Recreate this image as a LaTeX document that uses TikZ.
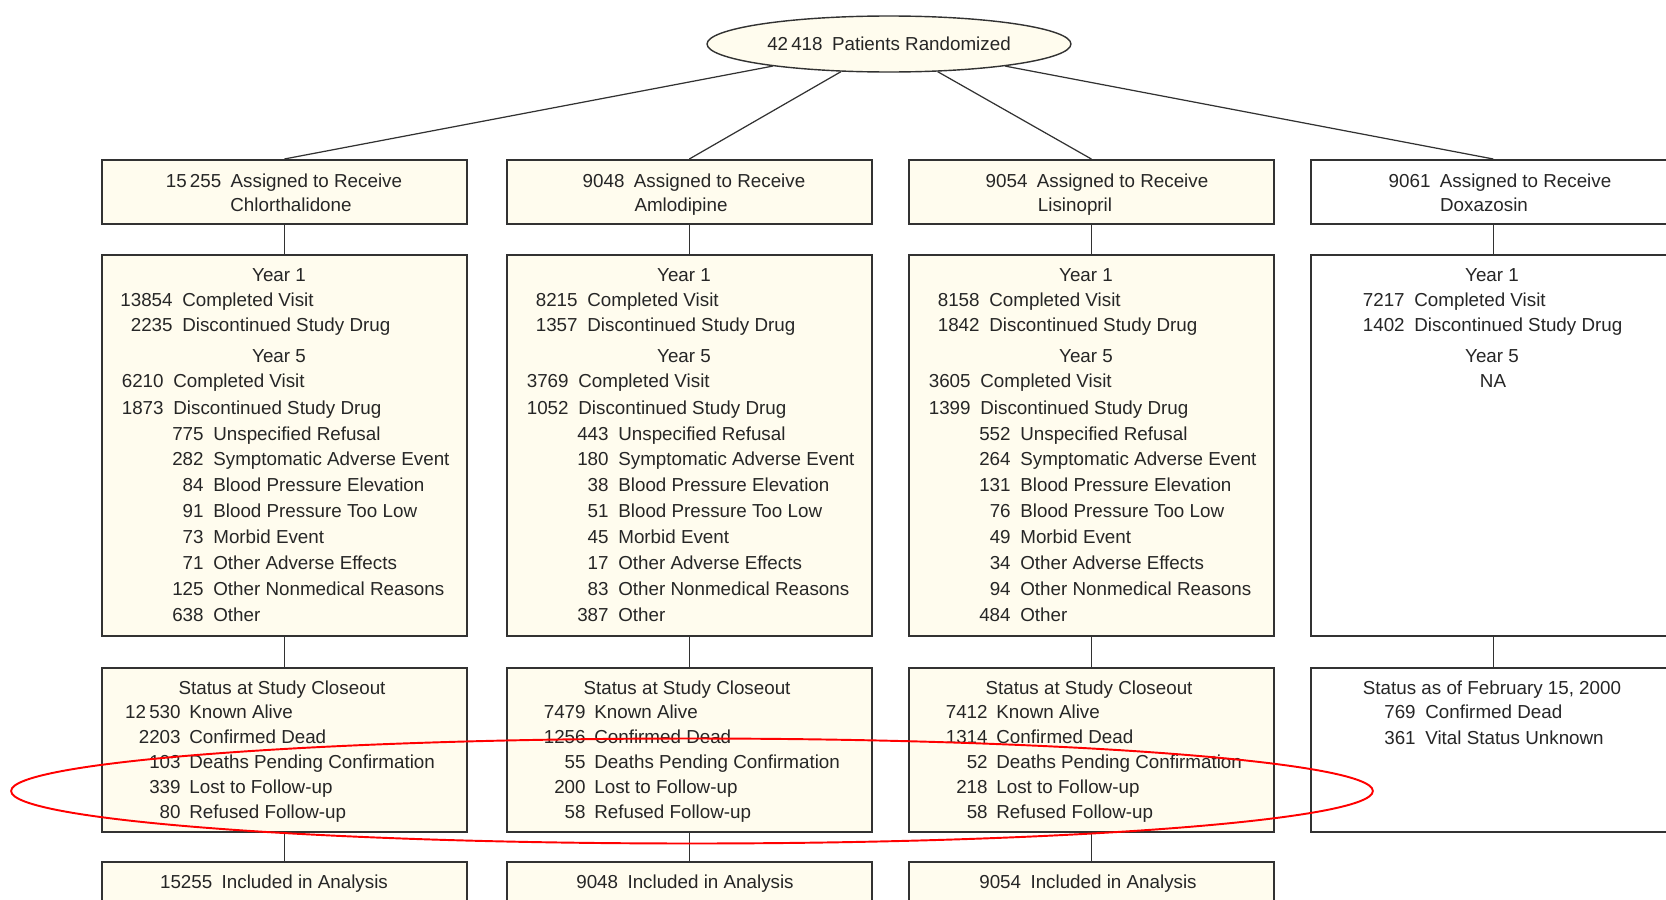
\documentclass[tikz,border=0pt]{standalone}
\usepackage{fontspec}
\setmainfont{Liberation Sans}
\usetikzlibrary{shapes.geometric}

\definecolor{cream}{RGB}{255,252,238}
\definecolor{frame}{RGB}{50,50,50}

\tikzset{
    box/.style={draw=frame, line width=1pt, inner sep=0pt, anchor=north west, minimum width=7.3cm},
    link/.style={draw=frame, line width=0.7pt},
    txt/.style={inner sep=0pt, anchor=base},
    num/.style={inner sep=0pt, anchor=base east},
    lbl/.style={inner sep=0pt, anchor=base west},
}

\begin{document}
\begin{tikzpicture}[x=0.02cm, y=-0.02cm, font=\fontsize{10.7}{12}\selectfont, text=black!85]
    \useasboundingbox (0,0) rectangle (1666,899);
    \clip (0,0) rectangle (1666,899);

    % Randomisierung
    \node[ellipse, draw=frame, line width=0.8pt, fill=cream, minimum width=7.28cm, minimum height=1.12cm, inner sep=0pt] (rand) at (889,44) {42\,418\enspace Patients Randomized};

    % Zuteilung (obere Reihe)
    \foreach \col/\lft/\fc/\num/\drug/\xa/\xb in {1/101/cream/15\,255/Chlorthalidone/284/291, 2/506/cream/9048/Amlodipine/694/681, 3/908/cream/9054/Lisinopril/1097/1075, 4/1310/white/9061/Doxazosin/1500/1484} {
        \node[box, fill=\fc, minimum height=1.28cm] (asg\col) at (\lft,159) {};
        \node[txt] (asg\col-a) at (\xa,187) {\num\enspace Assigned to Receive};
        \node[txt] (asg\col-b) at (\xb,211) {\drug};
    }

    % Jahr 1 / Jahr 5
    \foreach \col/\lft/\ya/\yb/\yc/\yd/\qa/\qb/\qc/\qd/\qe/\qf/\qg/\qh in {1/101/13854/2235/6210/1873/775/282/84/91/73/71/125/638, 2/506/8215/1357/3769/1052/443/180/38/51/45/17/83/387, 3/908/8158/1842/3605/1399/552/264/131/76/49/34/94/484} {
        \node[box, fill=cream, minimum height=7.62cm] (yr\col) at (\lft,254) {};
        \node[txt] (yr\col-h1) at (\lft+178,281) {Year 1};
        \node[num] (yr\col-na) at (\lft+72,306) {\ya};
        \node[lbl] (yr\col-la) at (\lft+81,306) {Completed Visit};
        \node[num] (yr\col-nb) at (\lft+72,331) {\yb};
        \node[lbl] (yr\col-lb) at (\lft+81,331) {Discontinued Study Drug};
        \node[txt] (yr\col-h5) at (\lft+178,362) {Year 5};
        \node[num] (yr\col-nc) at (\lft+63,387) {\yc};
        \node[lbl] (yr\col-lc) at (\lft+72,387) {Completed Visit};
        \node[num] (yr\col-nd) at (\lft+63,414) {\yd};
        \node[lbl] (yr\col-ld) at (\lft+72,414) {Discontinued Study Drug};
        \foreach \v/\t [count=\k from 0] in {\qa/Unspecified Refusal, \qb/Symptomatic Adverse Event, \qc/Blood Pressure Elevation, \qd/Blood Pressure Too Low, \qe/Morbid Event, \qf/Other Adverse Effects, \qg/Other Nonmedical Reasons, \qh/Other} {
            \node[num] (yr\col-n\k) at (\lft+103,440+\k*25.86) {\v};
            \node[lbl] (yr\col-l\k) at (\lft+112,440+\k*25.86) {\t};
        }
    }
    \node[box, fill=white, minimum height=7.62cm] (yr4) at (1310,254) {};
    \node[txt] (yr4-h1) at (1492,281) {Year 1};
    \node[num] (yr4-na) at (1405,306) {7217};
    \node[lbl] (yr4-la) at (1414,306) {Completed Visit};
    \node[num] (yr4-nb) at (1405,331) {1402};
    \node[lbl] (yr4-lb) at (1414,331) {Discontinued Study Drug};
    \node[txt] (yr4-h5) at (1492,362) {Year 5};
    \node[txt] (yr4-na5) at (1493,387) {NA};

    % Status bei Studienende
    \foreach \col/\lft/\ka/\kb/\kc/\kd/\ke in {1/101/12\,530/2203/103/339/80, 2/506/7479/1256/55/200/58, 3/908/7412/1314/52/218/58} {
        \node[box, fill=cream, minimum height=3.28cm] (st\col) at (\lft,667) {};
        \node[txt] (st\col-h) at (\lft+181,694) {Status at Study Closeout};
        \foreach \v/\t [count=\k from 0] in {\ka/Known Alive, \kb/Confirmed Dead, \kc/Deaths Pending Confirmation, \kd/Lost to Follow-up, \ke/Refused Follow-up} {
            \node[num] (st\col-n\k) at (\lft+80,718+\k*25) {\v};
            \node[lbl] (st\col-l\k) at (\lft+88,718+\k*25) {\t};
        }
    }
    \node[box, fill=white, minimum height=3.28cm] (st4) at (1310,667) {};
    \node[txt] (st4-h) at (1492,694) {Status as of February 15, 2000};
    \node[num] (st4-n0) at (1416,718) {769};
    \node[lbl] (st4-l0) at (1425,718) {Confirmed Dead};
    \node[num] (st4-n1) at (1416,744) {361};
    \node[lbl] (st4-l1) at (1425,744) {Vital Status Unknown};

    % Auswertung
    \foreach \col/\lft/\num/\xc in {1/101/15255/274, 2/506/9048/685, 3/908/9054/1088} {
        \node[box, fill=cream, minimum height=1.4cm] (inc\col) at (\lft,861) {};
        \node[txt] (inc\col-t) at (\xc,888) {\num\enspace Included in Analysis};
    }

    % Verbindungen
    \foreach \col in {1,...,4} {
        \draw[link] (rand) -- (asg\col.north);
        \draw[link] (asg\col) -- (yr\col);
        \draw[link] (yr\col) -- (st\col);
    }
    \foreach \col in {1,2,3} {
        \draw[link] (st\col) -- (inc\col);
    }

    % Markierung
    \draw[red, line width=1.1pt] (692,791) ellipse [x radius=13.62cm, y radius=1.05cm];
\end{tikzpicture}
\end{document}
